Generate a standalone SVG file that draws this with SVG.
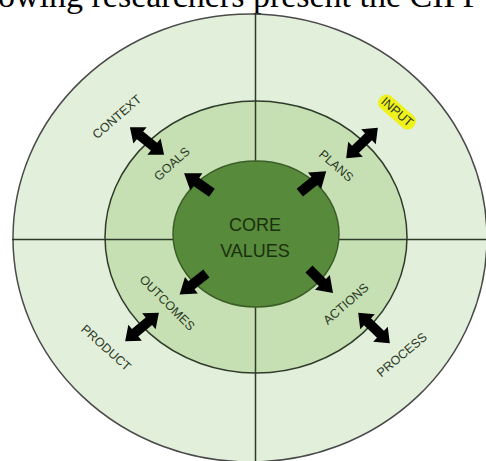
<svg xmlns="http://www.w3.org/2000/svg" width="486" height="461" viewBox="0 0 486 461">
<style>
.lbl{font-family:"Liberation Sans",Arial,sans-serif;font-size:12.5px;fill:#2c3826;text-anchor:middle;dominant-baseline:central}
.core{font-family:"Liberation Sans",Arial,sans-serif;font-size:18px;fill:#1a300e;text-anchor:middle}
.ring{stroke-width:1.5}
.div{stroke:#2f3b2a;stroke-width:1.5}
.arr{fill:#000}
</style>
<defs>
<path id="dbl" d="M-22,0 L-9,-10.5 L-9,-5 L9,-5 L9,-10.5 L22,0 L9,10.5 L9,5 L-9,5 L-9,10.5 Z"/>
<path id="sgl" d="M-17,-5 L2,-5 L2,-10.5 L17,0 L2,10.5 L2,5 L-17,5 Z"/>
</defs>
<rect width="486" height="461" fill="#ffffff"/>
<text x="-2" y="7" font-family="Liberation Serif,Times New Roman,serif" font-size="34" fill="#000">owing researchers present the CIPP</text>
<g id="outer-ring">
<ellipse class="ring" cx="250" cy="238" rx="237" ry="224" fill="#e2efda" stroke="#4a4a4a"/>
</g>
<g id="middle-ring">
<ellipse class="ring" cx="256" cy="237" rx="151" ry="136" fill="#c6e0b4" stroke="#2f3b2a"/>
</g>
<g id="connectors">
<line class="div" x1="255.5" y1="14" x2="255.5" y2="461"/>
<line class="div" x1="12" y1="239.5" x2="486" y2="239.5"/>
</g>
<g id="core-values">
<ellipse cx="256" cy="234" rx="83" ry="73" fill="#578a3a" stroke="#3b5e27" stroke-width="1.5"/>
<text class="core" x="255" y="231">CORE</text>
<text class="core" x="255" y="257">VALUES</text>
</g>
<g id="arrows">
<use href="#dbl" class="arr" transform="translate(147,141) rotate(39)"/>
<use href="#dbl" class="arr" transform="translate(362,143) rotate(-44)"/>
<use href="#dbl" class="arr" transform="translate(142,327) rotate(-40)"/>
<use href="#dbl" class="arr" transform="translate(374,328) rotate(44)"/>
<use href="#sgl" class="arr" transform="translate(198,183) rotate(215)"/>
<use href="#sgl" class="arr" transform="translate(313,182) rotate(-39)"/>
<use href="#sgl" class="arr" transform="translate(193,284) rotate(142)"/>
<use href="#sgl" class="arr" transform="translate(321,281) rotate(45)"/>
</g>
<g id="context"><text class="lbl" transform="translate(117,117) rotate(-41)">CONTEXT</text></g>
<g id="goals"><text class="lbl" transform="translate(172,164) rotate(-42)">GOALS</text></g>
<g id="plans"><text class="lbl" transform="translate(336,166) rotate(41)">PLANS</text></g>
<g id="input">
<rect x="-22" y="-8" width="44" height="16" rx="7" fill="#eef21a" transform="translate(397,112) rotate(41)"/>
<text class="lbl" transform="translate(397,112) rotate(41)">INPUT</text>
</g>
<g id="outcomes"><text class="lbl" transform="translate(167,303) rotate(45)">OUTCOMES</text></g>
<g id="product"><text class="lbl" transform="translate(106,348) rotate(42)">PRODUCT</text></g>
<g id="actions"><text class="lbl" transform="translate(346,304) rotate(-41)">ACTIONS</text></g>
<g id="process"><text class="lbl" transform="translate(402,355) rotate(-40)">PROCESS</text></g>
</svg>
